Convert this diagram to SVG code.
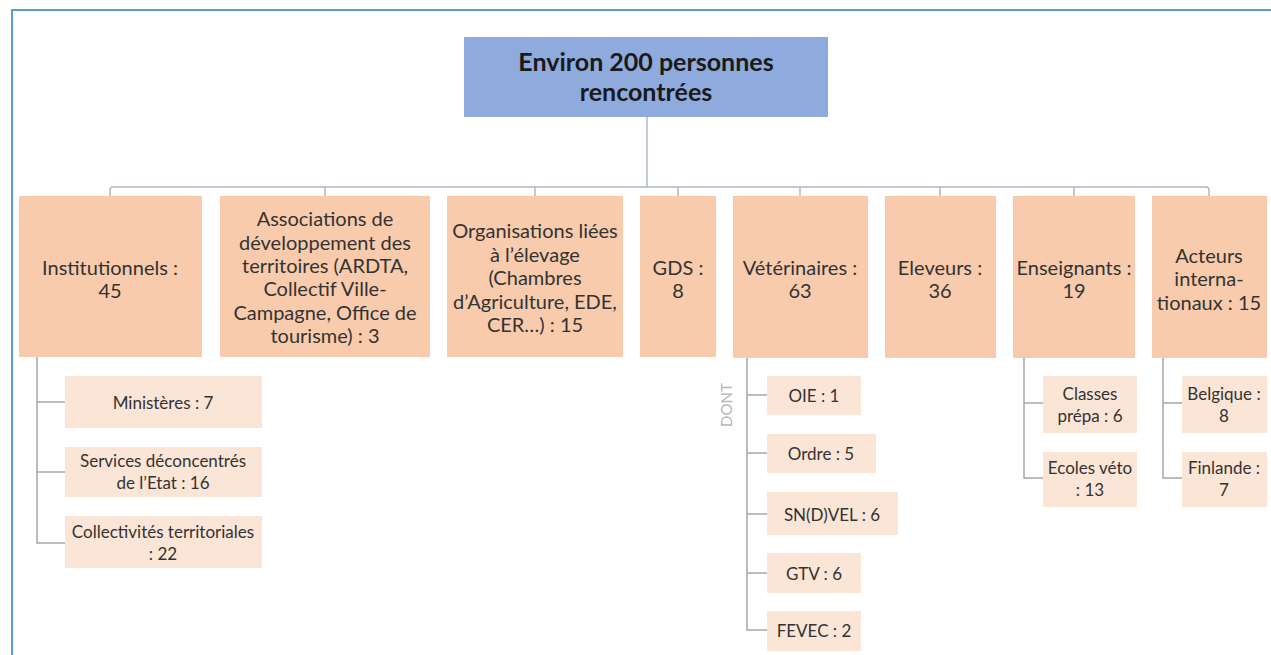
<svg xmlns="http://www.w3.org/2000/svg" width="1271" height="655" viewBox="0 0 1271 655">
<style>
.main{fill:#F8CBAD}
.sub{fill:#FBE5D6}
.t{font-family:Lato,"Liberation Sans",sans-serif;font-size:20px;fill:#333333;text-anchor:middle;dominant-baseline:central}
.s{font-family:Lato,"Liberation Sans",sans-serif;font-size:17px;fill:#333333;text-anchor:middle;dominant-baseline:central}
.bus{fill:none;stroke:#AEB8C8;stroke-width:1.5}
.br{fill:none;stroke:#A6A6A6;stroke-width:1.5}
</style>
<rect width="1271" height="655" fill="#ffffff"/>
<path d="M12,655 V10 H1271" fill="none" stroke="#5B9BD5" stroke-width="2"/>
<g id="connectors">
<path class="bus" d="M647,117 V187" stroke="#8A8F9C"/>
<path class="bus" d="M110,196 V190 Q110,187 113,187 H1206 Q1209,187 1209,190 V196"/>
<path class="bus" d="M325,187 V196 M535,187 V196 M678,187 V196 M800,187 V196 M940,187 V196 M1074,187 V196"/>
<path class="br" d="M37,357 V543 H65 M37,402 H65 M37,472 H65"/>
<path class="br" d="M747,358 V630 H767 M747,395 H767 M747,453 H767 M747,514 H767 M747,573 H767"/>
<path class="br" d="M1024,358 V478 H1043 M1024,403 H1043"/>
<path class="br" d="M1163,358 V478 H1182 M1163,403 H1182"/>
</g>
<g id="root">
<rect x="464" y="37" width="364" height="80" fill="#8FAADC"/>
<text x="646" y="61" class="t" style="font-size:25px;font-weight:bold;fill:#1a1a1a">Environ 200 personnes</text>
<text x="646" y="91" class="t" style="font-size:25px;font-weight:bold;fill:#1a1a1a">rencontrées</text>
</g>
<g id="institutionnels">
<rect class="main" x="19" y="196" width="183" height="161"/>
<text class="t" x="110" y="267">Institutionnels :</text>
<text class="t" x="110" y="290">45</text>
</g>
<g id="associations">
<rect class="main" x="220" y="196" width="210" height="161"/>
<text class="t" x="325" y="218">Associations de</text>
<text class="t" x="325" y="242">développement  des</text>
<text class="t" x="325" y="265">territoires (ARDTA,</text>
<text class="t" x="325" y="288">Collectif Ville-</text>
<text class="t" x="325" y="312">Campagne, Office de</text>
<text class="t" x="325" y="335">tourisme) : 3</text>
</g>
<g id="organisations">
<rect class="main" x="447" y="196" width="176" height="161"/>
<text class="t" x="535" y="230">Organisations liées</text>
<text class="t" x="535" y="254">à l’élevage</text>
<text class="t" x="535" y="277">(Chambres</text>
<text class="t" x="535" y="301">d’Agriculture, EDE,</text>
<text class="t" x="535" y="324">CER…) : 15</text>
</g>
<g id="gds">
<rect class="main" x="640" y="196" width="76" height="161"/>
<text class="t" x="678" y="267">GDS :</text>
<text class="t" x="678" y="290">8</text>
</g>
<g id="veterinaires">
<rect class="main" x="733" y="196" width="135" height="162"/>
<text class="t" x="800" y="267">Vétérinaires :</text>
<text class="t" x="800" y="290">63</text>
</g>
<g id="eleveurs">
<rect class="main" x="885" y="196" width="111" height="162"/>
<text class="t" x="940" y="267">Eleveurs :</text>
<text class="t" x="940" y="290">36</text>
</g>
<g id="enseignants">
<rect class="main" x="1013" y="196" width="122" height="162"/>
<text class="t" x="1074" y="267">Enseignants :</text>
<text class="t" x="1074" y="290">19</text>
</g>
<g id="acteurs">
<rect class="main" x="1152" y="196" width="115" height="162"/>
<text class="t" x="1209" y="255">Acteurs</text>
<text class="t" x="1209" y="278">interna-</text>
<text class="t" x="1209" y="302">tionaux : 15</text>
</g>
<g id="ministeres">
<rect class="sub" x="65" y="376" width="197" height="52"/>
<text class="s" x="163" y="402">Ministères : 7</text>
</g>
<g id="services">
<rect class="sub" x="65" y="447" width="197" height="50"/>
<text class="s" x="163" y="460">Services déconcentrés</text>
<text class="s" x="163" y="482">de l’Etat : 16</text>
</g>
<g id="collectivites">
<rect class="sub" x="65" y="516" width="197" height="52"/>
<text class="s" x="163" y="531">Collectivités territoriales</text>
<text class="s" x="163" y="553">: 22</text>
</g>
<g id="dont">
<text x="726" y="405" transform="rotate(-90 726 405)" style="font-family:Lato,'Liberation Sans',sans-serif;font-size:15px;fill:#b8b8b8;text-anchor:middle;dominant-baseline:central">DONT</text>
</g>
<g id="oie">
<rect class="sub" x="767" y="376" width="94" height="39"/>
<text class="s" x="814" y="395">OIE : 1</text>
</g>
<g id="ordre">
<rect class="sub" x="767" y="434" width="109" height="39"/>
<text class="s" x="821" y="453">Ordre : 5</text>
</g>
<g id="sndvel">
<rect class="sub" x="767" y="492" width="131" height="43"/>
<text class="s" x="832" y="514">SN(D)VEL : 6</text>
</g>
<g id="gtv">
<rect class="sub" x="767" y="553" width="94" height="40"/>
<text class="s" x="814" y="573">GTV : 6</text>
</g>
<g id="fevec">
<rect class="sub" x="767" y="611" width="94" height="40"/>
<text class="s" x="814" y="630">FEVEC : 2</text>
</g>
<g id="classes">
<rect class="sub" x="1043" y="376" width="94" height="57"/>
<text class="s" x="1090" y="393">Classes</text>
<text class="s" x="1090" y="415">prépa : 6</text>
</g>
<g id="ecoles">
<rect class="sub" x="1043" y="452" width="94" height="55"/>
<text class="s" x="1090" y="467">Ecoles véto</text>
<text class="s" x="1090" y="489">: 13</text>
</g>
<g id="belgique">
<rect class="sub" x="1182" y="376" width="85" height="57"/>
<text class="s" x="1224" y="393">Belgique :</text>
<text class="s" x="1224" y="415">8</text>
</g>
<g id="finlande">
<rect class="sub" x="1182" y="452" width="85" height="55"/>
<text class="s" x="1224" y="467">Finlande :</text>
<text class="s" x="1224" y="489">7</text>
</g>
</svg>
